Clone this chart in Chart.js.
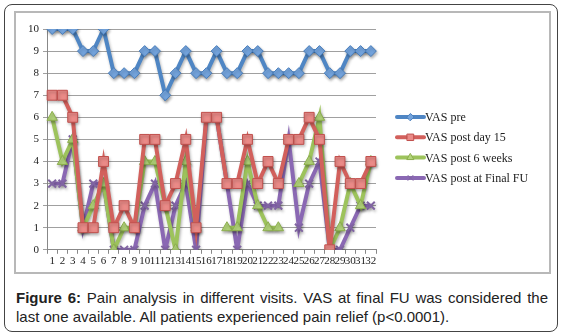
<!DOCTYPE html>
<html>
<head>
<meta charset="utf-8">
<script src="https://cdn.jsdelivr.net/npm/chart.js"></script>
<style>
  html, body { margin: 0; padding: 0; background: #fff; }
  .frame {
    position: absolute; left: 4px; top: 4px; width: 552px; height: 326px;
    border: 1px solid #444; border-radius: 8px;
  }
  .plotbox {
    position: absolute; left: 14px; top: 11px; width: 533px; height: 259px;
    border: 2px solid #b8b8b8;
  }
  .plotbox canvas { display: block; }
  .caption {
    position: absolute; left: 16px; top: 288px; width: 532px;
    font-family: "Liberation Sans", Arial, sans-serif; font-size: 15px;
    line-height: 19px; color: #222; text-align: justify;
  }
</style>
</head>
<body>
<div class="frame"></div>
<div class="plotbox"><canvas id="grafico" width="533" height="259"></canvas></div>
<div class="caption"><b>Figure 6:</b> Pain analysis in different visits. VAS at final FU was considered the last one available. All patients experienced pain relief (p&lt;0.0001).</div>

<script>
// ------ Dados ------
const pacientes = Array.from({ length: 32 }, (_, i) => String(i + 1));

const vasPre = [10, 10, 10, 9, 9, 10, 8, 8, 8, 9, 9, 7, 8, 9, 8, 8, 9, 8, 8, 9, 9, 8, 8, 8, 8, 9, 9, 8, 8, 9, 9, 9];
const vasDia15 = [7, 7, 6, 1, 1, 4, 1, 2, 1, 5, 5, 2, 3, 5, 1, 6, 6, 3, 3, 5, 3, 4, 3, 5, 5, 6, 5, 0, 4, 3, 3, 4];
const vas6Semanas = [6, 4, 5, 1, 2, 3, 0, 1, 1, 4, 4, 2, 0, 4, 1, null, null, 1, 1, 4, 2, 1, 1, null, 3, 4, 6, 0, 1, 3, 2, 4];
const vasFinal = [3, 3, 5, 1, 3, 3, 0, 0, 0, 2, 3, 0, 2, 3, 0, 6, 6, 3, 0, 3, 2, 2, 2, 5, 1, 3, 4, 0, 0, 1, 2, 2];

const yTicks = [0, 10];

// ------ Estilos das séries ------
const series = [
  { label: "VAS pre", data: vasPre, line: "#4f86c4", fill: "#73a3dc", edge: "#4a7ebb", style: "rectRot", r: 5.5 },
  { label: "VAS post day 15", data: vasDia15, line: "#d2605c", fill: "#ea8a87", edge: "#c0504d", style: "rect", r: 7 },
  { label: "VAS post 6 weeks", data: vas6Semanas, line: "#9dc35c", fill: "#b3d57a", edge: "#8cae4e", style: "triangle", r: 6 },
  { label: "VAS post at Final FU", data: vasFinal, line: "#8a68b3", fill: "#8a68b3", edge: "#8064a2", style: "crossRot", r: 5.5 },
];

const fonteSerif = "'Liberation Serif', 'DejaVu Serif', serif";

// sombra suave nas linhas (estilo Excel)
const sombra = {
  id: "sombra",
  beforeDatasetsDraw(chart) {
    const ctx = chart.ctx;
    ctx.save();
    ctx.shadowColor = "rgba(0,0,0,0.3)";
    ctx.shadowBlur = 3;
    ctx.shadowOffsetX = 1;
    ctx.shadowOffsetY = 2;
  },
  afterDatasetsDraw(chart) {
    chart.ctx.restore();
  },
};

// legenda à direita: linha + marcador + texto (a legenda nativa fica estreita demais)
const legendaExcel = {
  id: "legendaExcel",
  afterDraw(chart) {
    const { ctx, chartArea } = chart;
    const x0 = chartArea.right + 21;
    ctx.save();
    ctx.font = "12px " + fonteSerif;
    ctx.textBaseline = "middle";
    chart.data.datasets.forEach((ds, i) => {
      const y = chartArea.top + 88 + i * 20.3;
      ctx.strokeStyle = ds.borderColor;
      ctx.lineWidth = 4;
      ctx.lineCap = "round";
      ctx.beginPath(); ctx.moveTo(x0, y); ctx.lineTo(x0 + 27, y); ctx.stroke();
      ctx.fillStyle = ds.pointBackgroundColor;
      ctx.strokeStyle = ds.pointBorderColor;
      ctx.lineWidth = 1;
      Chart.helpers.drawPoint(ctx, { pointStyle: ds.pointStyle, radius: ds.pointRadius * 0.65, rotation: 0, borderWidth: 1 }, x0 + 13.5, y);
      ctx.fillStyle = "#222";
      ctx.fillText(ds.label, x0 + 28, y + 1);
    });
    ctx.restore();
  },
};

new Chart(document.getElementById("grafico"), {
  type: "line",
  data: {
    labels: pacientes,
    datasets: series.map((s) => ({
      label: s.label,
      data: s.data,
      borderColor: s.line,
      borderWidth: 4,
      backgroundColor: s.fill,
      pointStyle: s.style,
      pointRadius: s.r,
      pointBackgroundColor: s.fill,
      pointBorderColor: s.edge,
      pointBorderWidth: s.style === "crossRot" ? 2 : 1,
      tension: 0,
      spanGaps: false,
    })),
  },
  options: {
    responsive: false,
    animation: false,
    layout: { padding: { top: 16, right: 173, left: 8, bottom: 3 } },
    plugins: {
      tooltip: { enabled: false },
      legend: { display: false },
    },
    scales: {
      x: {
        offset: true,
        grid: { offset: true, drawOnChartArea: false, tickLength: 4, color: "#888" },
        border: { color: "#888" },
        ticks: {
          autoSkip: false, maxRotation: 0, minRotation: 0, padding: 1,
          color: "#222", font: { family: fonteSerif, size: 11 },
        },
      },
      y: {
        min: yTicks[0],
        max: yTicks[1],
        grid: { color: "#a0a0a0", tickLength: 4 },
        border: { color: "#888" },
        ticks: { stepSize: 1, padding: 4, color: "#222", font: { family: fonteSerif, size: 11 } },
      },
    },
  },
  plugins: [sombra, legendaExcel],
});
</script>
</body>
</html>
